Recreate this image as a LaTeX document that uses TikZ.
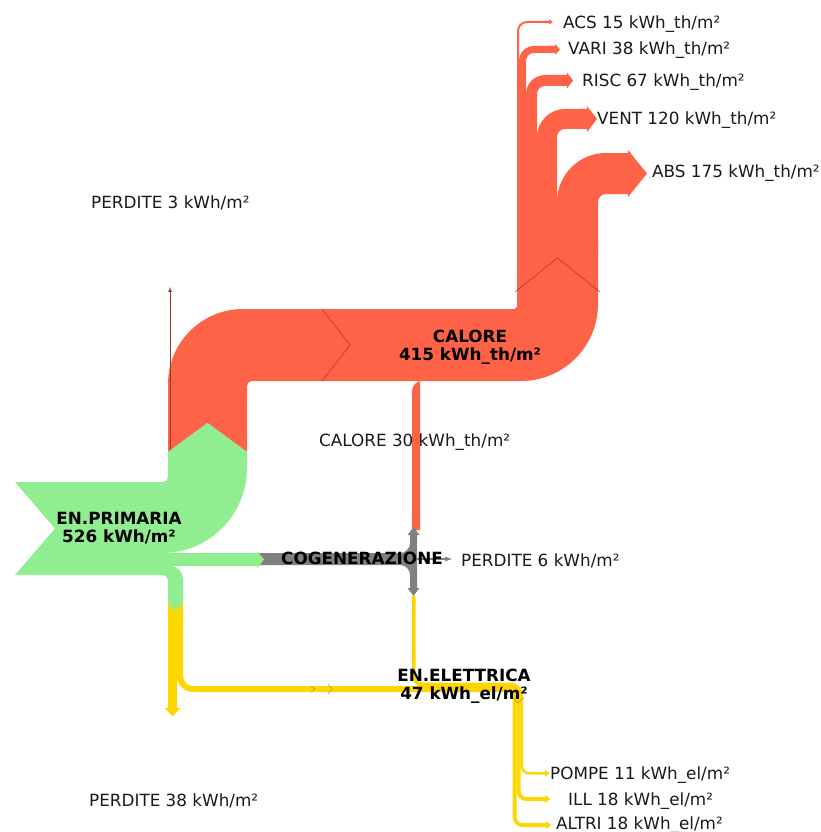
\documentclass[tikz,border=0pt]{standalone}
\usepackage{fontspec}
\setmainfont{DejaVu Sans}
\usepackage{tikz}
\usepackage{xcolor}
\usetikzlibrary{arrows}
\definecolor{tomato}{RGB}{255,99,71}
\definecolor{lightgreen}{RGB}{144,238,144}
\definecolor{gold}{RGB}{255,215,0}
\definecolor{chpgray}{RGB}{128,128,128}

\begin{document}
\begin{tikzpicture}[x=1pt, y=-1pt,
  heat/.style={fill=tomato},
  primary/.style={fill=lightgreen},
  chp/.style={fill=chpgray},
  elec/.style={fill=gold},
  heatline/.style={draw=tomato!60!black, line width=0.5pt},
  elecline/.style={draw=gold!70!black, line width=0.5pt},
  lbl/.style={anchor=west, inner sep=0pt, text=black!90, text height=12.2pt, text depth=0pt,
    font=\fontsize{16.8}{19}\selectfont},
  title/.style={align=center, inner sep=0pt, font=\fontsize{16.8}{18}\selectfont\bfseries}]
  \useasboundingbox (0,0) rectangle (821,832);

  % yellow: el. energy
  \fill[elec] (168,603) -- (175.5,611) -- (183,603) -- (183,676) arc[start angle=180,end angle=90,radius=10]
    -- (418,686) -- (418,692) -- (193,692) arc[start angle=90,end angle=180,radius=16]
    -- (177,708) -- (180.5,708) -- (172.5,716) -- (164.5,708) -- (168,708) -- cycle;
  \fill[elec] (412,596) -- (412,676) arc[start angle=180,end angle=90,radius=10] -- (430,686)
    -- (430,682.5) -- (422,682.5) arc[start angle=90,end angle=180,radius=6.5] -- (415.5,596) -- cycle;
  \fill[elec] (418,682.5) -- (510,682.5) arc[start angle=-90,end angle=0,radius=13] -- (523,706)
    -- (513,706) -- (513,695) arc[start angle=0,end angle=-90,radius=3] -- (418,692) -- cycle;
  \fill[elec] (520.5,700) -- (520.5,766) arc[start angle=180,end angle=90,radius=8.5] -- (545,774.5)
    -- (545,776.5) -- (550,773.25) -- (545,770) -- (545,772) -- (529,772)
    arc[start angle=90,end angle=180,radius=6] -- (523,700) -- cycle;
  \fill[elec] (516.5,700) -- (516.5,791) arc[start angle=180,end angle=90,radius=10] -- (545,801)
    -- (545,803) -- (550.5,799) -- (545,795) -- (545,797) -- (526.5,797)
    arc[start angle=90,end angle=180,radius=6] -- (520.5,700) -- cycle;
  \fill[elec] (512.5,700) -- (512.5,817) arc[start angle=180,end angle=90,radius=10] -- (546,827)
    -- (546,829) -- (551.5,825) -- (546,821) -- (546,823) -- (522.5,823)
    arc[start angle=90,end angle=180,radius=6] -- (516.5,700) -- cycle;
  \draw[elecline] (311,686) -- (315,689) -- (311,692);
  \draw[elecline] (328,684) -- (332,689) -- (328,694);
  \draw[elecline] (512,697) -- (518,703) -- (524,697);

  % red: heat
  \fill[heat] (168,452) -- (168,384) arc[start angle=180,end angle=270,radius=75] -- (514,309)
    arc[start angle=90,end angle=0,radius=3] -- (517,240) -- (598,240) -- (598,304)
    arc[start angle=0,end angle=90,radius=77] -- (252,381) arc[start angle=270,end angle=180,radius=5]
    -- (247,452) -- (207.5,423) -- cycle;
  \fill[heat] (557,250) -- (557,202) arc[start angle=180,end angle=270,radius=49] -- (628,153)
    -- (628,150) -- (647,173.5) -- (628,197) -- (628,194) -- (606,194)
    arc[start angle=270,end angle=180,radius=8] -- (598,250) -- cycle;
  \fill[heat] (537,250) -- (537,137) arc[start angle=180,end angle=270,radius=28] -- (587,109)
    -- (587,106) -- (597,119) -- (587,132) -- (587,129) -- (565,129)
    arc[start angle=270,end angle=180,radius=8] -- (557,250) -- cycle;
  \fill[heat] (526,250) -- (526,94) arc[start angle=180,end angle=270,radius=19] -- (567,75)
    -- (567,72.5) -- (573,80.5) -- (567,88.5) -- (567,86) -- (545,86)
    arc[start angle=270,end angle=180,radius=8] -- (537,250) -- cycle;
  \fill[heat] (519,250) -- (519,61) arc[start angle=180,end angle=270,radius=15] -- (555,46)
    -- (555,44) -- (560,49.5) -- (555,55) -- (555,53) -- (534,53)
    arc[start angle=270,end angle=180,radius=8] -- (526,250) -- cycle;
  \fill[heat] (517,250) -- (517,31) arc[start angle=180,end angle=270,radius=10] -- (549,21)
    -- (549,19.5) -- (553,22) -- (549,24.5) -- (549,23) -- (527,23)
    arc[start angle=270,end angle=180,radius=8] -- (519,250) -- cycle;
  \fill[heat] (412,530) -- (412,391) arc[start angle=180,end angle=270,radius=10] -- (422,375)
    -- (420,375) -- (420,530) -- cycle;
  \draw[heatline] (322,309) -- (350,345) -- (322,381);
  \draw[heatline] (515,292) -- (557.5,258) -- (600,292);
  \draw[heatline, line width=0.7pt, -latex] (170,452) -- (170,287);

  % gray: cogeneration
  \fill[chp] (258,553) -- (400,553) arc[start angle=90,end angle=0,radius=10] -- (410,535)
    -- (407.5,535) -- (413.5,527) -- (419.5,535) -- (417,535) -- (417,588) -- (419.5,588)
    -- (413.5,596) -- (407.5,588) -- (410,588) -- (410,575) arc[start angle=0,end angle=-90,radius=10]
    -- (258,565) -- cycle;
  \draw[chpgray, line width=1.3pt, -latex] (416,559) -- (452,559);

  % green: primary energy
  \fill[primary] (15,482) -- (163,482) arc[start angle=90,end angle=0,radius=5] -- (168,452)
    -- (207.5,423) -- (247,452) -- (247,468) arc[start angle=0,end angle=90,radius=85]
    -- (257,553) -- (257,551) -- (264,559.5) -- (257,568) -- (257,566) -- (170,566)
    arc[start angle=-90,end angle=0,radius=13] -- (183,603) -- (175.5,611) -- (168,603)
    -- (168,581) arc[start angle=0,end angle=-90,radius=6] -- (15,575) -- (55,528.5) -- cycle;

  % labels
  \node[lbl] (acs) at (563,22) {ACS 15 kWh\_th/m²};
  \node[lbl] (vari) at (568,48) {VARI 38 kWh\_th/m²};
  \node[lbl] (risc) at (582,80) {RISC 67 kWh\_th/m²};
  \node[lbl] (vent) at (597,118) {VENT 120 kWh\_th/m²};
  \node[lbl] (abs) at (652,171) {ABS 175 kWh\_th/m²};
  \node[lbl] (perdite3) at (91,202) {PERDITE 3 kWh/m²};
  \node[lbl] (calore30) at (319,440) {CALORE 30 kWh\_th/m²};
  \node[lbl] (perdite6) at (461,560) {PERDITE 6 kWh/m²};
  \node[lbl] (pompe) at (550,773) {POMPE 11 kWh\_el/m²};
  \node[lbl] (ill) at (568,799) {ILL 18 kWh\_el/m²};
  \node[lbl] (altri) at (556,823) {ALTRI 18 kWh\_el/m²};
  \node[lbl] (perdite38) at (89,800) {PERDITE 38 kWh/m²};
  \node[title] (calore) at (470,347) {CALORE\\415 kWh\_th/m²};
  \node[title] (primaria) at (119,528) {EN.PRIMARIA\\526 kWh/m²};
  \node[title] (cogen) at (362,558) {COGENERAZIONE};
  \node[title] (elettrica) at (464,686) {EN.ELETTRICA\\47 kWh\_el/m²};
\end{tikzpicture}
\end{document}
